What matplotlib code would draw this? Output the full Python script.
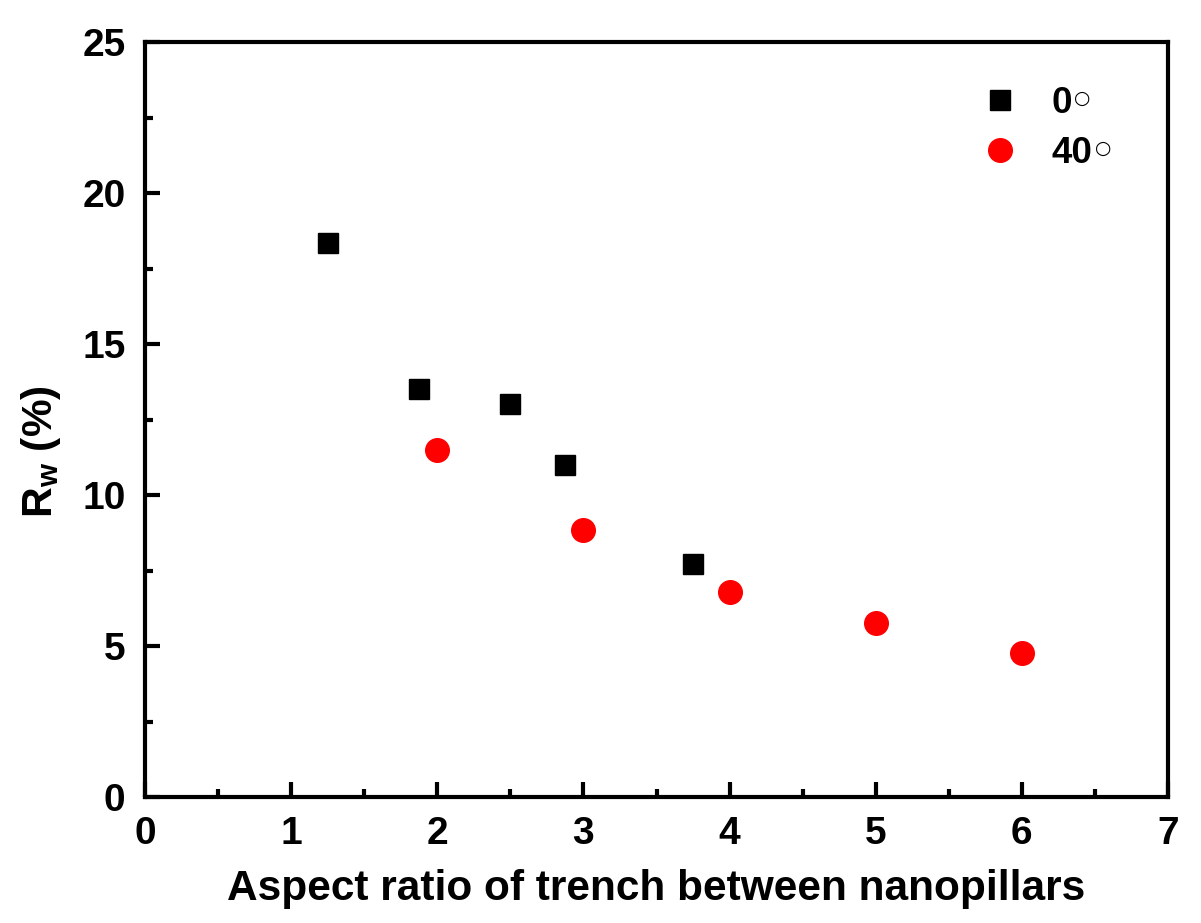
import matplotlib
matplotlib.use("Agg")
import matplotlib.pyplot as plt
from matplotlib.ticker import MultipleLocator

plt.rcParams['font.family'] = ['Liberation Sans', 'DejaVu Sans']
plt.rcParams['font.weight'] = 'bold'
plt.rcParams['mathtext.default'] = 'regular'

# Data
x_0deg = [1.25, 1.875, 2.5, 2.875, 3.75]
rw_0deg = [18.35, 13.5, 13.0, 11.0, 7.7]
x_40deg = [2.0, 3.0, 4.0, 5.0, 6.0]
rw_40deg = [11.5, 8.85, 6.78, 5.77, 4.78]

fig = plt.figure(figsize=(12.01, 9.23), dpi=100)
ax = fig.add_axes([145 / 1201, 1 - 797 / 923, 1023 / 1201, 755 / 923])

ax.plot(x_0deg, rw_0deg, 's', color='black', markersize=15, label='0')
ax.plot(x_40deg, rw_40deg, 'o', color='red', markersize=17, label='40')

ax.set_xlim(0, 7)
ax.set_ylim(0, 25)
ax.xaxis.set_major_locator(MultipleLocator(1))
ax.xaxis.set_minor_locator(MultipleLocator(0.5))
ax.yaxis.set_major_locator(MultipleLocator(5))
ax.yaxis.set_minor_locator(MultipleLocator(2.5))

for s in ax.spines.values():
    s.set_linewidth(3)
ax.tick_params(which='both', direction='in', top=False, right=False, width=3)
ax.tick_params(which='major', length=11, labelsize=28, pad=14)
ax.tick_params(which='minor', length=6)

ax.set_xlabel('Aspect ratio of trench between nanopillars', fontsize=30.5, fontweight='bold', labelpad=12)
ax.set_ylabel('R$_w$ (%)', fontsize=30.5, fontweight='bold', labelpad=14)
ax.yaxis.label.set_y(0.458)

leg = ax.legend(loc='upper left', frameon=False, fontsize=26.5, handlelength=1.0,
                handletextpad=0.9, labelspacing=0.4, borderpad=0.4,
                bbox_to_anchor=(0.785, 0.9854))

# thin degree rings after the legend labels (drawn after the legend)
for t in leg.get_texts():
    ax.annotate('\u25cb', xy=(1.0, 0.64), xycoords=t, xytext=(2, 0),
                textcoords='offset points', ha='left', va='center', zorder=10,
                fontsize=13.5, fontweight='normal', family='DejaVu Sans')

plt.savefig('out.png', dpi=100)
